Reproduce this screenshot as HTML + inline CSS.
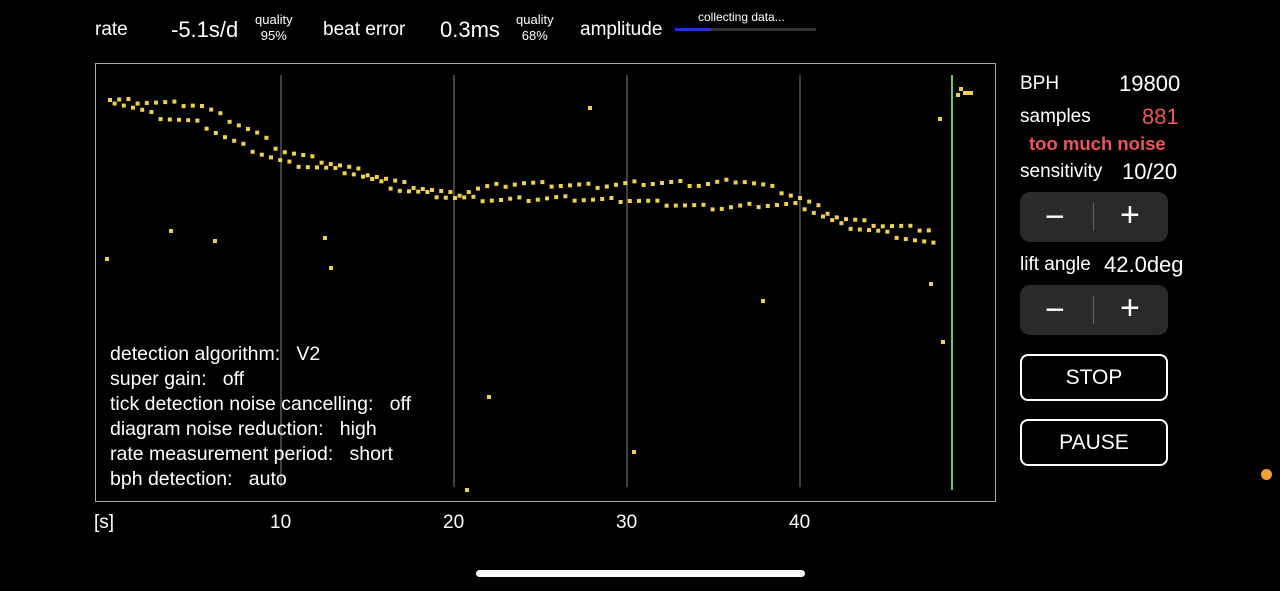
<!DOCTYPE html>
<html><head><style>
body{margin:0;width:1280px;height:591px;background:#000;overflow:hidden;font-family:"Liberation Sans",sans-serif;color:#fff;position:relative}
.t{position:absolute;white-space:nowrap}
.btn{position:absolute;border:2px solid #fff;border-radius:8px;box-sizing:border-box;text-align:center;font-size:21px}
.pm{position:absolute;left:1020px;width:148px;height:50px;background:#2a2a2c;border-radius:10px}
</style></head><body>
<div class="t" style="left:95px;top:19px;font-size:19px">rate</div>
<div class="t" style="left:171px;top:17px;font-size:22px">-5.1s/d</div>
<div class="t" style="left:255px;top:12px;font-size:13px;text-align:center;line-height:16px">quality<br>95%</div>
<div class="t" style="left:323px;top:19px;font-size:19px">beat error</div>
<div class="t" style="left:440px;top:17px;font-size:22px">0.3ms</div>
<div class="t" style="left:516px;top:12px;font-size:13px;text-align:center;line-height:16px">quality<br>68%</div>
<div class="t" style="left:580px;top:19px;font-size:19px">amplitude</div>
<div class="t" style="left:698px;top:10px;font-size:12px">collecting data...</div>
<div style="position:absolute;left:675px;top:28px;width:141px;height:3px;background:#333"></div>
<div style="position:absolute;left:675px;top:28px;width:36px;height:3px;background:#2233dd"></div>
<svg style="position:absolute;left:0;top:0" width="1280" height="591" id="s">
<rect x="95.5" y="63.5" width="900" height="438" fill="none" stroke="#aaa" stroke-width="1"/>
<g stroke="#555" stroke-width="1.5"><line x1="281" y1="75" x2="281" y2="487"/><line x1="454" y1="75" x2="454" y2="487"/><line x1="627" y1="75" x2="627" y2="487"/><line x1="800" y1="75" x2="800" y2="487"/></g>
<line x1="952" y1="75" x2="952" y2="490" stroke="#6c6" stroke-width="2"/>
<g id="d" fill="#f0d050"></g>
</svg>
<script>
var g=document.getElementById('d'),pts=[];
var up=[[110,100],[200,105],[260,135],[280,150],[350,168],[400,183],[455,195],[480,188],[520,183],[560,185],[600,186],[640,183],[680,183],[700,185],[740,180],[770,187],[800,198],[840,218],[880,225],[935,230]];
var lo=[[110,100],[140,110],[160,117],[200,123],[230,140],[260,153],[285,163],[350,172],[400,190],[455,198],[500,200],[560,198],[600,200],[630,200],[680,205],[720,208],[760,205],[800,205],[840,225],[880,232],[935,245]];
function f(a,x){for(var i=1;i<a.length;i++)if(x<=a[i][0]){var t=(x-a[i-1][0])/(a[i][0]-a[i-1][0]);return a[i-1][1]+t*(a[i][1]-a[i-1][1]);}return a[a.length-1][1];}
var k=0;for(var x=110;x<=936;x+=4.6){k++;var y=(k%2?f(up,x):f(lo,x))+((k*7)%5-2);pts.push([x,y]);}
[[107,259],[171,231],[215,241],[325,238],[331,268],[590,108],[489,397],[467,490],[634,452],[763,301],[931,284],[943,342],[940,119],[958,95],[961,89],[965,93],[968,93],[971,93]].forEach(function(p){pts.push(p)});
var h='';pts.forEach(function(p){h+='<rect x="'+(p[0]-2).toFixed(1)+'" y="'+(p[1]-2).toFixed(1)+'" width="4" height="4"/>'});g.innerHTML=h;
</script>
<div class="t" style="left:110px;top:342px;font-size:19.5px;line-height:25px">detection algorithm:&nbsp;&nbsp;&nbsp;V2<br>super gain:&nbsp;&nbsp;&nbsp;off<br>tick detection noise cancelling:&nbsp;&nbsp;&nbsp;off<br>diagram noise reduction:&nbsp;&nbsp;&nbsp;high<br>rate measurement period:&nbsp;&nbsp;&nbsp;short<br>bph detection:&nbsp;&nbsp;&nbsp;auto</div>
<div class="t" style="left:94px;top:512px;font-size:19px">[s]</div>
<div class="t" style="left:270px;top:512px;font-size:19px">10</div>
<div class="t" style="left:443px;top:512px;font-size:19px">20</div>
<div class="t" style="left:616px;top:512px;font-size:19px">30</div>
<div class="t" style="left:789px;top:512px;font-size:19px">40</div>
<div class="t" style="left:1020px;top:73px;font-size:19px">BPH</div>
<div class="t" style="left:1119px;top:71px;font-size:22px">19800</div>
<div class="t" style="left:1020px;top:106px;font-size:19px">samples</div>
<div class="t" style="left:1142px;top:104px;font-size:22px;color:#e55">881</div>
<div class="t" style="left:1029px;top:133px;font-size:18.5px;font-weight:bold;color:#e55">too much noise</div>
<div class="t" style="left:1020px;top:161px;font-size:19px">sensitivity</div>
<div class="t" style="left:1122px;top:159px;font-size:22px">10/20</div>
<div class="pm" style="top:192px"><span class="t" style="left:25px;top:6px;font-size:34px">−</span><span style="position:absolute;left:73px;top:11px;width:1px;height:28px;background:#666"></span><span class="t" style="left:100px;top:4px;font-size:34px">+</span></div>
<div class="t" style="left:1020px;top:254px;font-size:19px">lift angle</div>
<div class="t" style="left:1104px;top:252px;font-size:22px">42.0deg</div>
<div class="pm" style="top:285px"><span class="t" style="left:25px;top:6px;font-size:34px">−</span><span style="position:absolute;left:73px;top:11px;width:1px;height:28px;background:#666"></span><span class="t" style="left:100px;top:4px;font-size:34px">+</span></div>
<div class="btn" style="left:1020px;top:354px;width:148px;height:47px;line-height:43px">STOP</div>
<div class="btn" style="left:1020px;top:419px;width:148px;height:47px;line-height:43px">PAUSE</div>
<div style="position:absolute;left:1261px;top:469px;width:11px;height:11px;border-radius:50%;background:#f0a030"></div>
<div style="position:absolute;left:476px;top:570px;width:329px;height:7px;border-radius:4px;background:#fff"></div>
</body></html>
